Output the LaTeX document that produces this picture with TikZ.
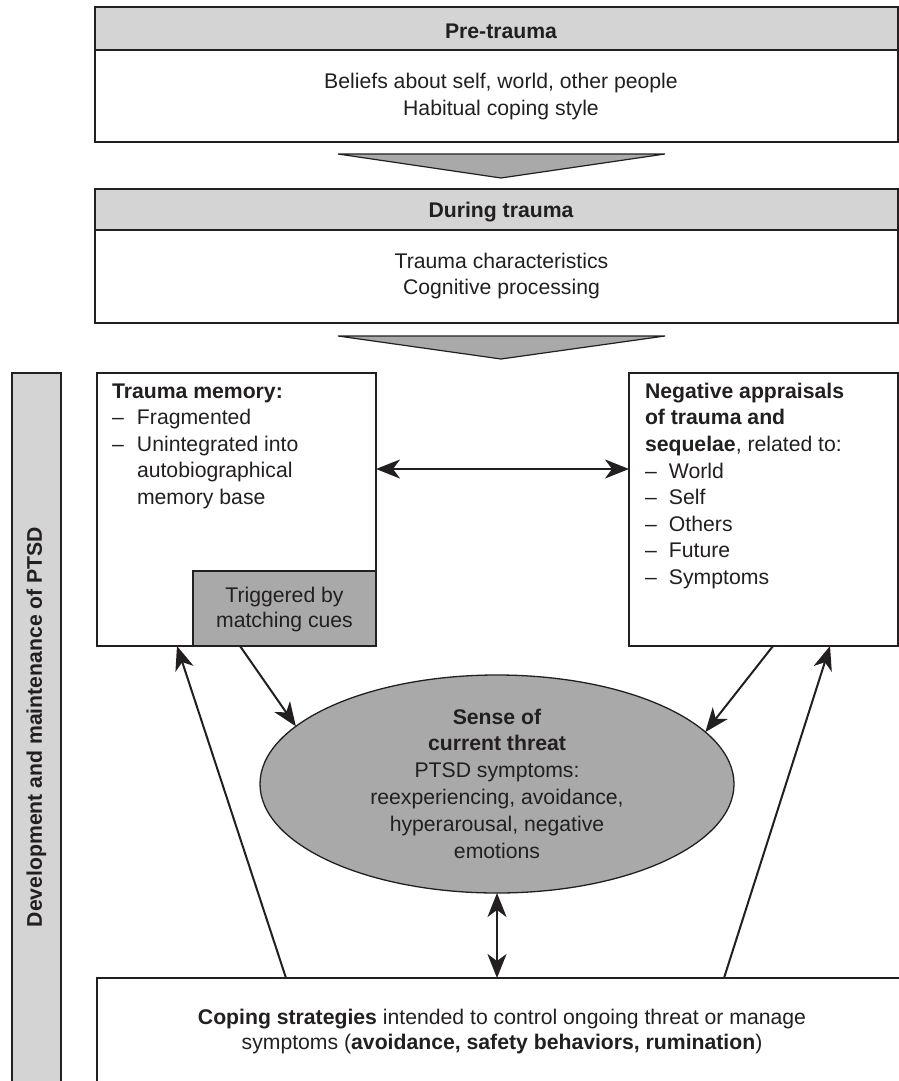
\documentclass[tikz,border=0pt]{standalone}
\usepackage{fontspec}
\setmainfont{Liberation Sans}
\usetikzlibrary{arrows.meta,shapes.geometric,calc}
\definecolor{ink}{HTML}{231F20}
\definecolor{lightfill}{HTML}{D4D4D4}
\definecolor{darkfill}{HTML}{A9A9A9}
\begin{document}
\begin{tikzpicture}[x=1pt,y=-1pt,
  every node/.style={inner sep=0pt, outer sep=0pt, text=ink},
  frame/.style={draw=ink, line width=1.3pt, rectangle, anchor=north west},
  txt/.style={font=\fontsize{21.2}{26.5}\selectfont},
  title/.style={font=\fontsize{21.2}{26.5}\selectfont\bfseries},
  tip/.tip={Stealth[length=24pt,width=19pt,inset=7pt]},
  arr/.style={draw=ink, line width=2pt, -tip},
  dblarr/.style={draw=ink, line width=2pt, tip-tip},
  wedge/.style={draw=ink, line width=1.2pt, fill=darkfill, line join=miter}
]
\useasboundingbox (0,0) rectangle (899,1081);
\clip (0,0) rectangle (899,1081);

% Pre-trauma
\node[frame, fill=lightfill, minimum width=803pt, minimum height=43pt] (preh) at (95,7) {};
\node[frame, fill=white, minimum width=803pt, minimum height=92pt] (preb) at (95,50) {};
\node[title, anchor=base] (pret) at (501,38.5) {Pre-trauma};
\node[txt, align=center, anchor=base] (prex) at (501,115) {Beliefs about self, world, other people\\Habitual coping style};

\draw[wedge] (338,154) -- (665,154) -- (501,178) -- cycle;

% During trauma
\node[frame, fill=lightfill, minimum width=803pt, minimum height=41pt] (durh) at (95,189) {};
\node[frame, fill=white, minimum width=803pt, minimum height=93pt] (durb) at (95,230) {};
\node[title, anchor=base] (durt) at (501,217.5) {During trauma};
\node[font=\fontsize{21.2}{26}\selectfont, align=center, anchor=base] (durx) at (501.5,294.3) {Trauma characteristics\\Cognitive processing};

\draw[wedge] (338,336) -- (665,336) -- (501,359) -- cycle;

% side bar
\node[frame, fill=lightfill, minimum width=49pt, minimum height=730pt] (bar) at (12,373) {};
\node[title, rotate=90] (bart) at (36.5,727) {Development and maintenance of PTSD};

% Trauma memory
\node[frame, fill=white, minimum width=279pt, minimum height=273pt] (tm) at (97,373) {};
\node[frame, fill=darkfill, minimum width=183pt, minimum height=75pt] (trig) at (193,571) {};
\node[font=\fontsize{21.2}{26.4}\selectfont, align=left, anchor=base west] (tmx) at (112,504) {\textbf{Trauma memory:}\\
\makebox[25pt][l]{--}Fragmented\\
\makebox[25pt][l]{--}Unintegrated into\\
\hspace*{25pt}autobiographical\\
\hspace*{25pt}memory base};
\node[font=\fontsize{21.2}{25.2}\selectfont, align=center, anchor=base] (trigx) at (284.5,627.8) {Triggered by\\matching cues};

% Negative appraisals
\node[frame, fill=white, minimum width=269pt, minimum height=273pt] (na) at (629,373) {};
\node[font=\fontsize{21.2}{26.6}\selectfont, align=left, anchor=base west] (nax) at (645,584.4) {\textbf{Negative appraisals}\\
\textbf{of trauma and}\\
\textbf{sequelae}, related to:\\
\makebox[24pt][l]{--}World\\
\makebox[24pt][l]{--}Self\\
\makebox[24pt][l]{--}Others\\
\makebox[24pt][l]{--}Future\\
\makebox[24pt][l]{--}Symptoms};

% Sense of current threat
\node[ellipse, draw=ink, line width=1.3pt, fill=darkfill, minimum width=474pt, minimum height=218pt] (threat) at (497,784) {};
\node[font=\fontsize{21.2}{26.8}\selectfont, align=center, anchor=base] (threatx) at (497,858) {\textbf{Sense of}\\
\textbf{current threat}\\
PTSD symptoms:\\
reexperiencing, avoidance,\\
hyperarousal, negative\\
emotions};

% Coping strategies
\node[frame, fill=white, minimum width=815pt, minimum height=130pt] (cope) at (97,978) {};
\node[font=\fontsize{21.2}{25.2}\selectfont, align=center, anchor=base] (copex) at (502,1049.4) {\textbf{Coping strategies} intended to control ongoing threat or manage\\
symptoms (\textbf{avoidance, safety behaviors, rumination})};

% connectors
\coordinate (hy) at (500,469);
\draw[dblarr] (tm.east |- hy) -- (na.west |- hy);
\draw[arr] ([xshift=47pt]trig.south west) -- (threat.164.4);
\draw[arr] ([xshift=144pt]na.south west) -- (threat.14);
\draw[arr] ([xshift=189pt]cope.north west) -- ([xshift=80pt]tm.south west);
\draw[arr] ([xshift=627pt]cope.north west) -- ([xshift=201pt]na.south west);
\draw[dblarr] (threat.south) -- (threat.south |- cope.north);
\end{tikzpicture}
\end{document}
